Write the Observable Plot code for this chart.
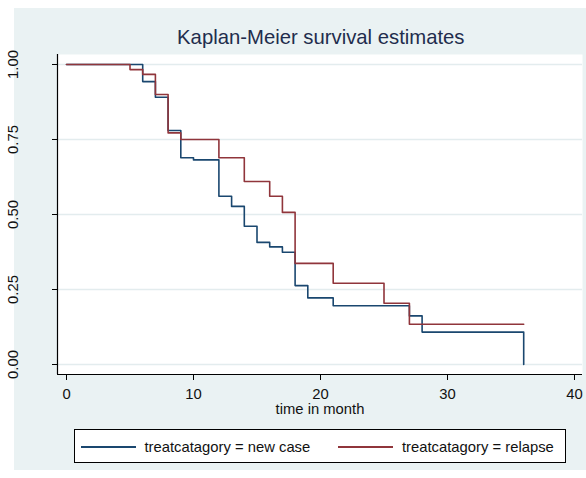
<!DOCTYPE html>
<html>
<head>
<meta charset="utf-8">
<script src="https://cdn.jsdelivr.net/npm/d3@7"></script>
<script src="https://cdn.jsdelivr.net/npm/@observablehq/plot@0.6"></script>
<style>
  html, body { margin: 0; padding: 0; background: #ffffff; }
  #wrap { position: relative; width: 586px; height: 478px; overflow: hidden;
          font-family: "Liberation Sans", Arial, sans-serif; }
  #bg { position: absolute; left: 14px; top: 8px; width: 572px; height: 462px; background: #eaf2f3; }
  #title { position: absolute; left: 0; top: 25px; width: 641.6px; text-align: center;
           font-size: 20.3px; line-height: 24px; color: #1f2d4d; white-space: nowrap; }
  #chart { position: absolute; left: 0; top: 0; }
  #legend { position: absolute; left: 74px; top: 429px; width: 492px; height: 34px;
            box-sizing: border-box; border: 1px solid #000; background: #fff; }
  #legend .sw { position: absolute; top: 16px; height: 2px; }
  #legend .lt { position: absolute; top: 9px; font-size: 14.8px; line-height: 16px; color: #111; white-space: nowrap; }
</style>
</head>
<body>
<div id="wrap">
  <div id="bg"></div>
  <div id="title"></div>
  <div id="chart"></div>
  <div id="legend"></div>
</div>
<script>
// ---- data ----
const titleText = "Kaplan-Meier survival estimates";
const xLabel = "time in month";
const groups = ["treatcatagory = new case", "treatcatagory = relapse"];
const groupColors = ["#1a476f", "#90353b"];

const newCaseTime = [0, 6, 7, 8, 9, 10, 12, 13, 14, 15, 16, 17, 18, 19, 21, 27, 28, 36];
const newCaseSurv = [1, 0.943, 0.891, 0.78, 0.689, 0.682, 0.561, 0.527, 0.461, 0.407, 0.392, 0.374, 0.263, 0.222, 0.196, 0.162, 0.108, 0];

const relapseTime = [0, 5, 6, 7, 8, 9, 12, 14, 16, 17, 18, 21, 25, 27, 36];
const relapseSurv = [1, 0.983, 0.967, 0.90, 0.772, 0.75, 0.689, 0.61, 0.561, 0.507, 0.337, 0.271, 0.204, 0.134, 0.134];

const xTicks = [0, 10, 20, 30, 40];
const yTicks = [0, 0.25, 0.5, 0.75, 1];

// ---- build tables ----
const newRows = newCaseTime.map((t, i) => ({time: t, surv: newCaseSurv[i], group: groups[0]}));
const relRows = relapseTime.map((t, i) => ({time: t, surv: relapseSurv[i], group: groups[1]}));

const xDomain = [-0.709, 40.63];
const yDomain = [-0.0333, 1.0333];
const fontSize = 14.8;

document.getElementById("title").textContent = titleText;

const chart = Plot.plot({
  width: 586,
  height: 420,
  marginLeft: 57,
  marginRight: 4,
  marginTop: 54,
  marginBottom: 46,
  style: {background: "transparent", overflow: "visible", fontFamily: "'Liberation Sans', Arial, sans-serif", color: "#111"},
  x: {domain: xDomain},
  y: {domain: yDomain},
  color: {domain: groups, range: groupColors},
  marks: [
    Plot.frame({fill: "white", stroke: "none"}),
    Plot.gridY(yTicks, {stroke: "#e3ecee", strokeOpacity: 1, strokeWidth: 1.5}),
    Plot.ruleX([xDomain[0]], {stroke: "#000", strokeWidth: 1.2}),
    Plot.ruleY([yDomain[0]], {stroke: "#000", strokeWidth: 1.2}),
    Plot.axisY(yTicks, {tickSize: 5, tickPadding: 35, tickRotate: -90, tickFormat: d3.format(".2f"), fontSize, label: null, stroke: "#000"}),
    Plot.axisX(xTicks, {tickSize: 6, tickPadding: 8, fontSize, label: null, stroke: "#000"}),
    Plot.text([xLabel], {text: d => d, frameAnchor: "bottom", dy: 39, lineAnchor: "bottom", fontSize}),
    Plot.line(newRows, {x: "time", y: "surv", stroke: "group", curve: "step-after", strokeWidth: 1.6}),
    Plot.line(relRows, {x: "time", y: "surv", stroke: "group", curve: "step-after", strokeWidth: 1.6})
  ]
});
document.getElementById("chart").appendChild(chart);

// ---- legend ----
const legend = document.getElementById("legend");
const swLeft = [6, 263];
const txtLeft = [69.5, 327];
groups.forEach((g, i) => {
  const sw = document.createElement("span");
  sw.className = "sw";
  sw.style.left = swLeft[i] + "px";
  sw.style.width = "55px";
  sw.style.background = groupColors[i];
  legend.appendChild(sw);
  const tx = document.createElement("span");
  tx.className = "lt";
  tx.style.left = txtLeft[i] + "px";
  tx.textContent = g;
  legend.appendChild(tx);
});
</script>
</body>
</html>
